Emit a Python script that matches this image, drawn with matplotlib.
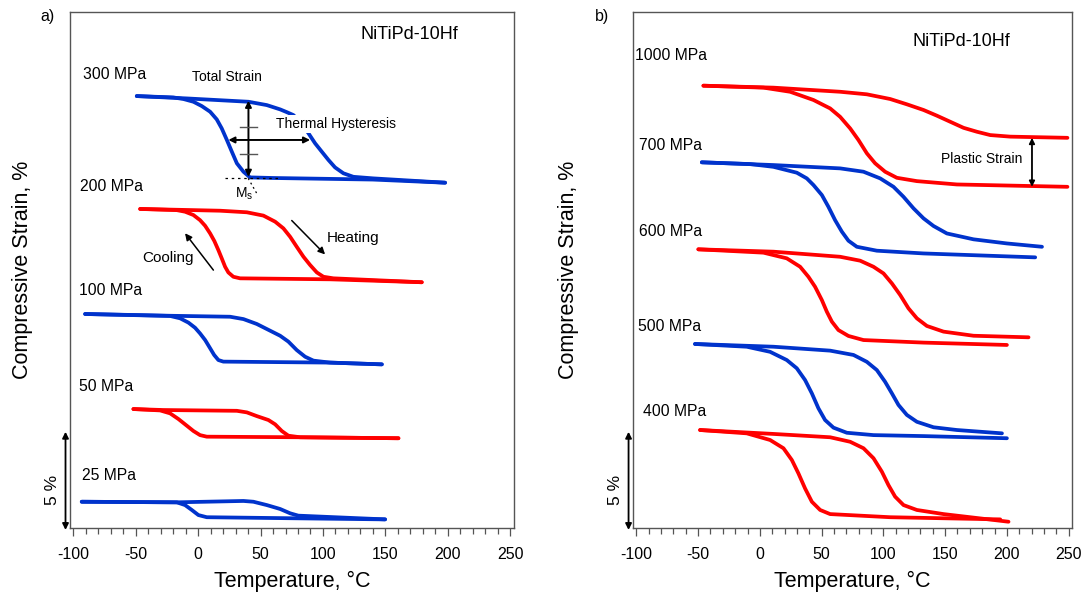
import numpy as np
import matplotlib
matplotlib.use("Agg")
import matplotlib.pyplot as plt
from matplotlib.ticker import MultipleLocator

plt.rcParams["font.family"] = ["Liberation Sans", "DejaVu Sans"]
plt.rcParams["mathtext.fontset"] = "custom"
plt.rcParams["mathtext.rm"] = "Liberation Sans"
plt.rcParams["mathtext.it"] = "Liberation Sans"
plt.rcParams["axes.unicode_minus"] = False

BLUE = "#0033cc"
RED = "#ff0000"
FRAME = "#555555"

# (temperature degC, strain position %); offsets per stress level
# panel a
A300_COOL = [(197.9, 17.62), (140.0, 17.78), (60.0, 17.86), (41.6, 17.89), (36.3, 18.18),
             (31.0, 18.61), (27.0, 19.20), (23.0, 19.80), (18.9, 20.39), (14.9, 20.85),
             (9.6, 21.24), (2.9, 21.53), (-3.8, 21.75), (-11.8, 21.89), (-19.9, 21.97),
             (-49.2, 22.04)]
A300_HEAT = [(-49.2, 22.04), (-9.1, 21.92), (40.3, 21.75), (55.0, 21.58), (65.7, 21.36),
             (71.0, 21.22), (76.3, 21.07), (83.1, 20.65), (88.4, 20.14), (93.7, 19.63),
             (99.1, 19.20), (104.4, 18.78), (109.7, 18.40), (116.4, 18.10), (124.4, 17.92),
             (140.4, 17.84), (197.9, 17.62)]
A200_COOL = [(179.2, 12.54), (105.7, 12.69), (33.6, 12.74), (28.2, 12.82), (24.2, 13.04),
             (21.6, 13.33), (18.9, 13.76), (16.2, 14.18), (13.0, 14.64), (9.6, 15.03),
             (5.6, 15.42), (1.5, 15.71), (-3.8, 15.97), (-10.5, 16.14), (-17.1, 16.22),
             (-46.5, 16.28)]
A200_HEAT = [(-46.5, 16.28), (17.6, 16.19), (39.0, 16.11), (52.3, 15.94), (61.7, 15.63),
             (68.3, 15.29), (73.7, 14.86), (79.0, 14.35), (84.4, 13.84), (89.7, 13.42),
             (95.1, 13.04), (100.4, 12.82), (108.4, 12.74), (179.2, 12.54)]
A100_COOL = [(147.2, 8.35), (105.7, 8.44), (20.2, 8.49), (16.2, 8.57), (12.8, 8.83),
             (9.6, 9.17), (5.6, 9.59), (1.5, 9.93), (-2.5, 10.22), (-7.8, 10.48),
             (-14.5, 10.70), (-22.5, 10.82), (-90.6, 10.92)]
A100_HEAT = [(-90.6, 10.92), (-22.5, 10.83), (25.6, 10.78), (36.3, 10.66), (47.0, 10.41),
             (57.6, 10.07), (65.7, 9.81), (72.3, 9.51), (79.0, 9.08), (85.7, 8.74),
             (92.4, 8.54), (105.7, 8.44), (147.2, 8.35)]
A50_COOL = [(160.5, 4.58), (81.7, 4.63), (6.9, 4.66), (1.5, 4.74), (-3.8, 4.95),
            (-9.1, 5.22), (-15.8, 5.56), (-22.5, 5.85), (-30.5, 6.00), (-51.9, 6.07)]
A50_HEAT = [(-51.9, 6.07), (-27.9, 6.02), (31.0, 5.98), (39.0, 5.90), (47.0, 5.71),
            (56.3, 5.51), (61.7, 5.29), (67.0, 4.95), (72.3, 4.71), (81.7, 4.63),
            (160.5, 4.58)]
A25_COOL = [(149.8, 0.44), (6.9, 0.55), (0.2, 0.66), (-5.1, 0.92), (-10.5, 1.17),
            (-17.1, 1.31), (-93.3, 1.34)]
A25_HEAT = [(-93.3, 1.34), (-17.1, 1.31), (36.3, 1.38), (44.3, 1.34), (55.0, 1.17),
            (65.7, 0.97), (73.7, 0.75), (80.3, 0.63), (149.8, 0.44)]

# panel b
B1000_COOL = [(249.0, 17.41), (159.5, 17.53), (127.1, 17.70), (110.9, 17.87), (101.4, 18.18),
              (93.3, 18.61), (86.6, 19.12), (79.8, 19.80), (73.1, 20.39), (65.0, 20.98),
              (56.9, 21.41), (43.4, 21.84), (24.5, 22.26), (2.9, 22.47), (-45.7, 22.57)]
B1000_HEAT = [(-45.7, 22.57), (11.0, 22.47), (65.0, 22.26), (86.6, 22.13), (105.5, 21.89),
              (119.0, 21.62), (132.5, 21.33), (143.3, 21.04), (154.1, 20.73), (164.9, 20.42),
              (175.7, 20.22), (186.5, 20.05), (202.7, 19.97), (249.0, 19.91)]
B700_COOL = [(222.9, 13.81), (132.5, 14.01), (94.7, 14.15), (78.5, 14.35), (71.7, 14.66),
             (66.4, 15.12), (60.9, 15.71), (55.5, 16.39), (50.2, 16.99), (43.4, 17.50),
             (38.0, 17.84), (29.9, 18.13), (11.0, 18.43), (-7.9, 18.57), (-47.0, 18.66)]
B700_HEAT = [(-47.0, 18.66), (11.0, 18.52), (65.0, 18.35), (83.9, 18.18), (97.4, 17.84),
             (108.2, 17.41), (116.3, 16.90), (124.4, 16.31), (132.5, 15.80), (140.6, 15.41),
             (151.4, 15.03), (173.0, 14.73), (200.0, 14.52), (228.4, 14.35)]
B600_COOL = [(200.0, 9.34), (132.5, 9.46), (83.9, 9.59), (71.7, 9.80), (63.6, 10.10),
             (58.3, 10.53), (54.2, 11.04), (50.2, 11.63), (44.7, 12.31), (39.3, 12.82),
             (32.6, 13.33), (21.8, 13.76), (2.9, 14.05), (-49.8, 14.22)]
B600_HEAT = [(-49.8, 14.22), (11.0, 14.10), (65.0, 13.84), (81.2, 13.64), (92.0, 13.33),
             (100.1, 12.99), (106.9, 12.48), (113.6, 11.89), (120.3, 11.21), (127.1, 10.70),
             (135.2, 10.31), (148.7, 10.02), (173.0, 9.81), (217.5, 9.73)]
B500_COOL = [(200.0, 4.58), (132.5, 4.69), (92.0, 4.74), (70.4, 4.86), (59.6, 5.12),
             (52.8, 5.51), (47.4, 6.11), (42.1, 6.87), (36.6, 7.55), (29.9, 8.15),
             (21.8, 8.57), (8.3, 8.99), (-10.6, 9.25), (-52.5, 9.39)]
B500_HEAT = [(-52.5, 9.39), (11.0, 9.25), (56.9, 9.05), (75.8, 8.83), (86.6, 8.48),
             (94.7, 8.06), (101.4, 7.46), (106.9, 6.87), (112.2, 6.28), (119.0, 5.77),
             (127.1, 5.42), (140.6, 5.14), (159.5, 5.00), (196.0, 4.83)]
B400_COOL = [(194.6, 0.44), (105.5, 0.55), (56.9, 0.71), (48.8, 0.92), (42.1, 1.34),
             (36.6, 2.02), (31.2, 2.79), (25.9, 3.47), (19.1, 4.07), (8.3, 4.49),
             (-10.6, 4.83), (-48.4, 5.00)]
B400_HEAT = [(-48.4, 5.00), (11.0, 4.80), (56.9, 4.63), (73.1, 4.40), (83.9, 4.07),
             (92.0, 3.56), (98.8, 2.87), (104.1, 2.19), (109.5, 1.60), (116.3, 1.17),
             (127.1, 0.92), (148.7, 0.71), (201.3, 0.32)]

A_LABELS = ["300 MPa", "200 MPa", "100 MPa", "50 MPa", "25 MPa"]
B_LABELS = ["1000 MPa", "700 MPa", "600 MPa", "500 MPa", "400 MPa"]


def _draw_loop(ax, cool, heat, color):
    for branch in (cool, heat):
        t, s = np.array(branch).T
        ax.plot(t, s, color=color, lw=2.7, solid_capstyle="round",
                solid_joinstyle="round", zorder=2)


def _setup(ax, tag, tag_x):
    ax.set_xlim(-102.7, 252.7)
    ax.set_ylim(0, 26.33)
    ax.set_yticks([])
    ax.xaxis.set_major_locator(MultipleLocator(50))
    ax.xaxis.set_minor_locator(MultipleLocator(10))
    ax.tick_params(axis="x", which="major", direction="out", length=6,
                   width=0.9, color=FRAME, labelsize=11.5, pad=8)
    ax.tick_params(axis="x", which="minor", direction="out", length=4,
                   width=0.9, color=FRAME)
    for sp in ax.spines.values():
        sp.set_color(FRAME)
        sp.set_linewidth(1.0)
    ax.text(0.5, -0.104, "Temperature, \u00b0C", transform=ax.transAxes,
            ha="center", va="center", fontsize=15.5)
    ax.text(tag_x, 0.972, tag, transform=ax.figure.transFigure,
            ha="center", va="center", fontsize=11.5)
    # 5 % scale bar
    ax.annotate("", xy=(-106.3, -0.1), xytext=(-106.3, 4.91),
                arrowprops=dict(arrowstyle="<|-|>", color="black", lw=1.3,
                                mutation_scale=9, shrinkA=0, shrinkB=0),
                annotation_clip=False)
    ax.text(-116.5, 1.94, "5 %", rotation=90, ha="center", va="center",
            fontsize=12.5, clip_on=False)


fig = plt.figure(figsize=(10.87, 5.95), dpi=100)
ax_a = fig.add_axes([70 / 1087, 67 / 595, 443.5 / 1087, 516 / 595])
ax_b = fig.add_axes([633 / 1087, 67 / 595, 439 / 1087, 516 / 595])

# ---- panel a
_setup(ax_a, "a)", 47.5 / 1087)
for cool, heat, color in [(A300_COOL, A300_HEAT, BLUE), (A200_COOL, A200_HEAT, RED),
                          (A100_COOL, A100_HEAT, BLUE), (A50_COOL, A50_HEAT, RED),
                          (A25_COOL, A25_HEAT, BLUE)]:
    _draw_loop(ax_a, cool, heat, color)

for lab, (x, y) in zip(A_LABELS, [(-92.5, 23.16), (-94.5, 17.41), (-95.8, 12.11),
                                  (-95.8, 7.24), (-93.0, 2.70)]):
    ax_a.text(x, y, lab, ha="left", va="center", fontsize=11.3)
ax_a.text(169, 25.19, "NiTiPd-10Hf", ha="center", va="center", fontsize=13)
ax_a.text(-0.108, 0.5, "Compressive Strain, %", transform=ax_a.transAxes,
          rotation=90, ha="center", va="center", fontsize=15.5)

# annotations on the 300 MPa loop
ax_a.text(23.2, 23.0, "Total Strain", ha="center", va="center", fontsize=10)
ax_a.text(110.3, 20.61, "Thermal Hysteresis", ha="center", va="center", fontsize=10,
          zorder=3, bbox=dict(facecolor="white", edgecolor="none", pad=1.5))
ax_a.annotate("", xy=(40.3, 17.92), xytext=(40.3, 21.8),
              arrowprops=dict(arrowstyle="<|-|>", color="black", lw=1.4,
                              mutation_scale=9, shrinkA=0, shrinkB=0), zorder=4)
ax_a.annotate("", xy=(24.2, 19.8), xytext=(89.7, 19.8),
              arrowprops=dict(arrowstyle="<|-|>", color="black", lw=1.4,
                              mutation_scale=9, shrinkA=0, shrinkB=0), zorder=4)
for yy in (20.47, 19.08):
    ax_a.plot([33.6, 47.3], [yy, yy], color=FRAME, lw=1.0, zorder=4)
ax_a.plot([21.6, 65.7], [17.87, 17.87], color="black", lw=0.9, ls=(0, (2, 3)), zorder=4)
ax_a.plot([40.1, 46.9], [17.84, 17.08], color="black", lw=0.9, ls=(0, (1.5, 2.5)), zorder=4)
ax_a.text(36.5, 17.05, r"$\mathrm{M_s}$", ha="center", va="center", fontsize=10)

# heating / cooling arrows on the 200 MPa loop
ax_a.annotate("", xy=(101.7, 13.96), xytext=(75.0, 15.69),
              arrowprops=dict(arrowstyle="-|>", color="black", lw=1.1,
                              mutation_scale=10, shrinkA=0, shrinkB=0))
ax_a.annotate("", xy=(-10.5, 15.04), xytext=(12.2, 13.16),
              arrowprops=dict(arrowstyle="-|>", color="black", lw=1.1,
                              mutation_scale=10, shrinkA=0, shrinkB=0))
ax_a.text(124.4, 14.81, "Heating", ha="center", va="center", fontsize=11)
ax_a.text(-23.9, 13.79, "Cooling", ha="center", va="center", fontsize=11)

# ---- panel b
_setup(ax_b, "b)", 601.8 / 1087)
for cool, heat, color in [(B1000_COOL, B1000_HEAT, RED), (B700_COOL, B700_HEAT, BLUE),
                          (B600_COOL, B600_HEAT, RED), (B500_COOL, B500_HEAT, BLUE),
                          (B400_COOL, B400_HEAT, RED)]:
    _draw_loop(ax_b, cool, heat, color)

for lab, (x, y) in zip(B_LABELS, [(-100.9, 24.10), (-98.1, 19.54), (-98.1, 15.12),
                                  (-98.6, 10.27), (-95.0, 5.93)]):
    ax_b.text(x, y, lab, ha="left", va="center", fontsize=11.3)
ax_b.text(163.2, 24.81, "NiTiPd-10Hf", ha="center", va="center", fontsize=13)
ax_b.text(-0.148, 0.5, "Compressive Strain, %", transform=ax_b.transAxes,
          rotation=90, ha="center", va="center", fontsize=15.5)

ax_b.annotate("", xy=(220.3, 17.41), xytext=(220.3, 19.91),
              arrowprops=dict(arrowstyle="<|-|>", color="black", lw=1.3,
                              mutation_scale=8, shrinkA=0, shrinkB=0), zorder=4)
ax_b.text(179.8, 18.83, "Plastic Strain", ha="center", va="center", fontsize=10)

fig.savefig("out.png", dpi=100)
plt.close(fig)
